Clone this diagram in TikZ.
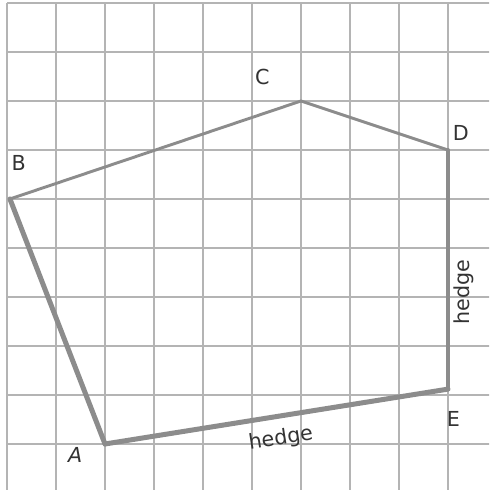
\documentclass[tikz,border=0pt]{standalone}
\usepackage{fontspec}
\setmainfont{DejaVu Sans}
\definecolor{rejilla}{HTML}{B4B4B4}
\definecolor{borde}{HTML}{8C8C8C}
\definecolor{letra}{HTML}{333333}
\begin{document}
\begin{tikzpicture}[lado/.style={draw=borde,line cap=round,line join=round},
    etiqueta/.style={text=letra,font=\fontsize{12}{14}\selectfont,inner sep=0pt}]
    \clip (-0.143,0.061) rectangle (9.837,10.061);
    % Cuadricula
    \draw[rejilla,line width=0.9pt] (0,0) grid (10,10);

    % Vertices
    \coordinate (A) at (2,1);
    \coordinate (B) at (0.06,6);
    \coordinate (C) at (6,8);
    \coordinate (D) at (9,7);
    \coordinate (E) at (9,2.12);
    \node[etiqueta] (lA) at (1.39,0.78) {\textit{A}};
    \node[etiqueta] (lB) at (0.24,6.73) {B};
    \node[etiqueta] (lC) at (5.21,8.50) {C};
    \node[etiqueta] (lD) at (9.26,7.34) {D};
    \node[etiqueta] (lE) at (9.11,1.52) {E};

    % Lados
    \draw[lado,line width=2.9pt] (A) -- (B);
    \draw[lado,line width=1.7pt] (B) -- (C);
    \draw[lado,line width=1.7pt] (C) -- (D);
    \draw[lado,line width=2.3pt] (D) -- (E);
    \draw[lado,line width=2.9pt] (E) -- (A);
    \node[etiqueta,rotate=8.8] (hAE) at (5.59,1.10) {hedge};
    \node[etiqueta,rotate=90] (hDE) at (9.33,4.10) {hedge};
\end{tikzpicture}
\end{document}
